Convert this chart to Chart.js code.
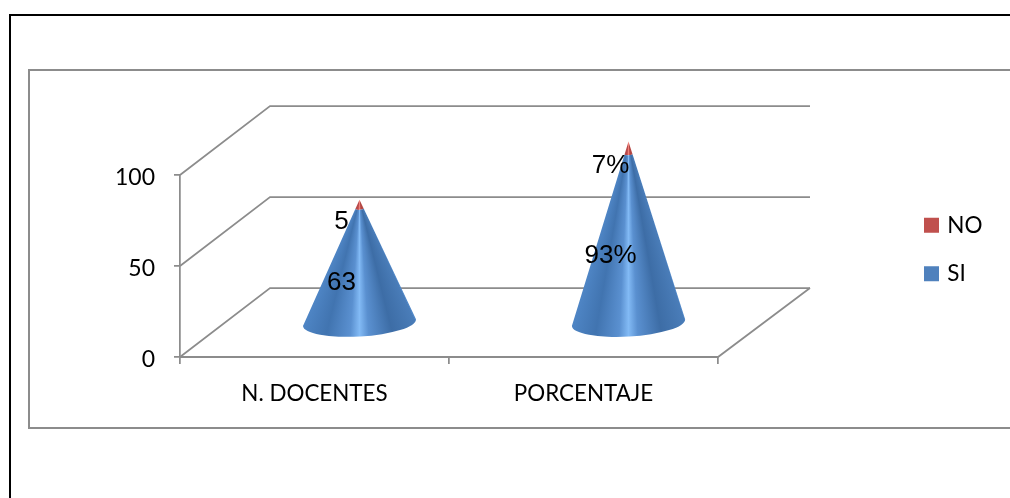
<!DOCTYPE html>
<html>
<head>
<meta charset="utf-8">
<title>Docentes</title>
<script src="https://cdn.jsdelivr.net/npm/chart.js@4/dist/chart.umd.min.js"></script>
<style>
  body { margin: 0; background: #fff; overflow: hidden; }
  #page { position: absolute; left: 9px; top: 14px; width: 1001px; height: 484px; border-left: 2px solid #000; border-top: 2px solid #000; }
  #frame { position: absolute; left: 28px; top: 69px; width: 982px; height: 356px; border: solid #8c8c8c; border-width: 2px 0 2px 2px; }
  canvas { position: absolute; left: 0; top: 0; }
</style>
</head>
<body>
<div id="page"></div>
<div id="frame"></div>
<canvas id="chart" width="1010" height="498"></canvas>
<script>
// categories and series
const categories = ['N. DOCENTES', 'PORCENTAJE']
const siValues = [63, 93]
const noValues = [5, 7]
const labelSuffix = ['', '%']
const yTicks = [0, 50, 100]

// how far the floor recedes behind the front axes
const depthX = 90
const depthY = 69
const backOverhang = 2
const coneRadius = 57
const baseFlat = 0.245
const baseTilt = -0.058

const gridColor = '#8c8c8c'
const shades = {
    SI: ['#4f86c6', '#4174b0', '#5a90d0', '#82baf5', '#5a90d0', '#3d6da6', '#4a7db9'],
    NO: ['#c0504d', '#b5474a', '#cf5d58', '#f08078', '#cf5d58', '#ad4442', '#bb4e4b']
}
const shadeStops = [0, 0.22, 0.42, 0.5, 0.58, 0.78, 1]

// one stacked slice of a cone, shaded by the angle around its apex
function drawSlice(ctx, cx, apexY, baseY, yLow, yHigh, colors) {
    const rAt = y => coneRadius * (y - apexY) / (baseY - apexY)
    const half = Math.atan2(coneRadius, baseY - apexY)
    const grad = ctx.createConicGradient(Math.PI / 2 - half, cx, apexY)
    const span = 2 * half / (2 * Math.PI)
    shadeStops.forEach((s, i) => grad.addColorStop((1 - s) * span, colors[i]))
    grad.addColorStop(Math.min(span + 0.001, 1), colors[0])

    const rLow = rAt(yLow)
    const rHigh = rAt(yHigh)
    ctx.beginPath()
    ctx.ellipse(cx, yLow, rLow, rLow * baseFlat, baseTilt, Math.PI, 0, true)
    if (rHigh > 0.2) {
        ctx.ellipse(cx, yHigh, rHigh, rHigh * baseFlat, baseTilt, 0, Math.PI, false)
    } else {
        ctx.lineTo(cx, apexY)
    }
    ctx.closePath()
    ctx.fillStyle = grad
    ctx.fill()
}

const conePlugin = {
    id: 'cones',
    afterLayout(chart) {
        // legend sits to the right of the floor, above the middle of the axis
        const legend = chart.legend
        legend.left = 927 - legend.options.labels.padding
        legend.right = legend.left + legend.width
        legend.top = 249.5 - legend.height / 2
        legend.bottom = legend.top + legend.height
    },
    beforeDatasetsDraw(chart) {
        const { ctx, chartArea: area, scales: { y } } = chart
        ctx.save()
        ctx.strokeStyle = gridColor
        ctx.lineWidth = 1.75
        yTicks.forEach(v => {
            const py = y.getPixelForValue(v)
            ctx.beginPath()
            ctx.moveTo(area.left, py)
            ctx.lineTo(area.left + depthX, py - depthY)
            ctx.lineTo(area.right + depthX + backOverhang, py - depthY)
            ctx.stroke()
        })
        ctx.beginPath()
        ctx.moveTo(area.left, area.bottom)
        ctx.lineTo(area.right, area.bottom)
        ctx.lineTo(area.right + depthX + backOverhang, area.bottom - depthY)
        ctx.stroke()
        ctx.restore()
    },
    beforeDatasetDraw(chart, args) {
        const { ctx, scales: { y } } = chart
        const dataset = chart.data.datasets[args.index]
        const lift = depthY / 2 - 1
        args.meta.data.forEach((bar, i) => {
            const total = siValues[i] + noValues[i]
            drawSlice(ctx, bar.x + depthX / 2, y.getPixelForValue(total) - lift,
                y.getPixelForValue(0) - lift, bar.base - lift, bar.y - lift, shades[dataset.label])
        })
        return false
    },
    afterDatasetsDraw(chart) {
        const { ctx } = chart
        ctx.save()
        ctx.font = '26px "Liberation Sans"'
        ctx.fillStyle = '#000'
        ctx.textAlign = 'center'
        ctx.textBaseline = 'middle'
        chart.data.datasets.forEach((dataset, d) => {
            chart.getDatasetMeta(d).data.forEach((bar, i) => {
                const mid = (bar.y + bar.base) / 2
                ctx.fillText(dataset.data[i] + labelSuffix[i], bar.x + 27, mid - 16)
            })
        })
        ctx.restore()
    }
}

new Chart(document.getElementById('chart'), {
    type: 'bar',
    data: {
        labels: categories,
        datasets: [
            { label: 'SI', data: siValues, backgroundColor: '#4f81bd', borderColor: '#4f81bd', borderWidth: 6 },
            { label: 'NO', data: noValues, backgroundColor: '#c0504d', borderColor: '#c0504d', borderWidth: 6 }
        ]
    },
    plugins: [conePlugin],
    options: {
        responsive: false,
        animation: false,
        layout: { padding: { left: 100, top: 175, right: 292, bottom: 71 } },
        plugins: {
            tooltip: { enabled: false },
            legend: {
                position: 'chartArea',
                reverse: true,
                labels: {
                    // the 6px border brings the swatch up to 15px
                    boxWidth: 9,
                    boxHeight: 9,
                    padding: 26,
                    color: '#000',
                    font: { family: 'Lato', size: 22.5 }
                }
            }
        },
        scales: {
            x: {
                stacked: true,
                afterFit(scale) { scale.height = 70 },
                border: { color: gridColor, width: 1.75 },
                grid: { offset: true, drawOnChartArea: false, color: gridColor, lineWidth: 1.75, tickLength: 7 },
                ticks: { color: '#000', padding: 16, font: { family: 'Lato', size: 22.4 } }
            },
            y: {
                stacked: true,
                min: 0,
                max: 100,
                afterFit(scale) { scale.width = 80 },
                afterBuildTicks(scale) { scale.ticks = yTicks.map(v => ({ value: v })) },
                border: { color: gridColor, width: 1.75 },
                grid: { drawOnChartArea: false, color: gridColor, lineWidth: 1.75, tickLength: 6 },
                ticks: { color: '#000', padding: 19, labelOffset: 3, font: { family: 'Lato', size: 23 } }
            }
        }
    }
})
</script>
</body>
</html>
